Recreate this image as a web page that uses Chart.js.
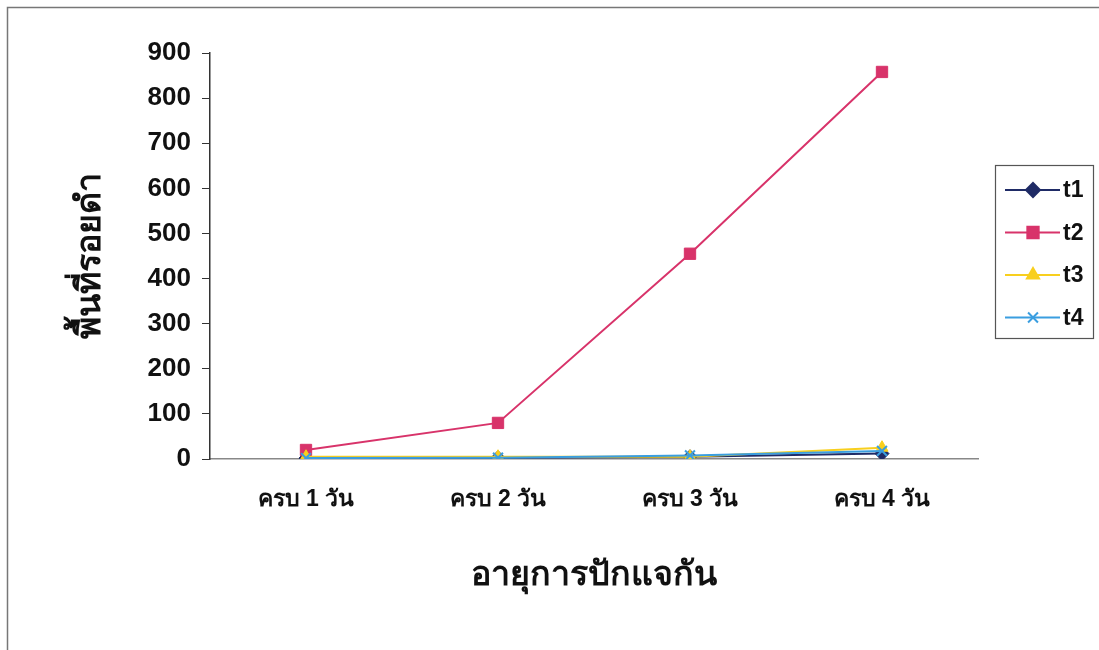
<!DOCTYPE html>
<html>
<head>
<meta charset="utf-8">
<script src="https://cdn.jsdelivr.net/npm/chart.js@4"></script>
<style>
  html, body { margin: 0; padding: 0; background: #fff; }
  #wrap { width: 1099px; height: 650px; position: relative; }
</style>
</head>
<body>
<div id="wrap"><canvas id="chart" width="1099" height="650"></canvas></div>
<script>
const categories = ['ครบ 1 วัน', 'ครบ 2 วัน', 'ครบ 3 วัน', 'ครบ 4 วัน'];
const t1 = [2, 3, 5, 12];
const t2 = [20, 80, 455, 858];
const t3 = [5, 5, 5, 25];
const t4 = [2, 3, 8, 18];
const yTicks = [0, 100, 200, 300, 400, 500, 600, 700, 800, 900];

const FONT = "'Liberation Sans', Arial, sans-serif";

const series = [
  { label: 't1', data: t1, color: '#1f2b66', point: 'rectRot', radius: 7 },
  { label: 't2', data: t2, color: '#d8336a', point: 'rect', radius: 8 },
  { label: 't3', data: t3, color: '#f8cf1e', point: 'triangle', radius: 7 },
  { label: 't4', data: t4, color: '#3a9ee0', point: 'crossRot', radius: 7 }
];

// legend box with line + marker samples, plus the outer frame
const framePlugin = {
  id: 'frame',
  afterDraw(chart) {
    const ctx = chart.ctx;
    ctx.save();
    ctx.strokeStyle = '#777';
    ctx.lineWidth = 1.5;
    ctx.strokeRect(7.5, 7.5, 1200, 800);

    const lx = 995, ly = 165, lw = 98, lh = 173;
    ctx.strokeStyle = '#555';
    ctx.lineWidth = 1.2;
    ctx.strokeRect(lx + 0.5, ly + 0.5, lw, lh);

    chart.data.datasets.forEach((ds, i) => {
      const y = ly + 25 + i * 42.5;
      ctx.strokeStyle = ds.borderColor;
      ctx.fillStyle = ds.borderColor;
      ctx.lineWidth = 2;
      ctx.beginPath();
      ctx.moveTo(lx + 10, y);
      ctx.lineTo(lx + 65, y);
      ctx.stroke();
      Chart.helpers.drawPoint(ctx, {
        pointStyle: ds.pointStyle,
        radius: ds.pointRadius,
        borderWidth: ds.pointBorderWidth
      }, lx + 38, y);
      ctx.fillStyle = '#111';
      ctx.font = 'bold 23px ' + FONT;
      ctx.textBaseline = 'middle';
      ctx.fillText(ds.label, lx + 68, y + 1);
    });
    ctx.restore();
  }
};

new Chart(document.getElementById('chart'), {
  type: 'line',
  data: {
    labels: categories,
    datasets: series.map((s, i) => ({
      label: s.label,
      data: s.data,
      // later series are painted over earlier ones
      order: series.length - i,
      borderColor: s.color,
      backgroundColor: s.color,
      pointBackgroundColor: s.color,
      pointBorderColor: s.color,
      pointStyle: s.point,
      pointRadius: s.radius,
      pointBorderWidth: s.point === 'crossRot' ? 2 : 1,
      borderWidth: 2,
      tension: 0
    }))
  },
  options: {
    responsive: false,
    animation: false,
    layout: { padding: { left: 70, right: 121, top: 53, bottom: 54 } },
    plugins: {
      legend: { display: false },
      tooltip: { enabled: false }
    },
    scales: {
      x: {
        offset: true,
        grid: { display: false },
        border: { display: true, color: '#888', width: 1.5 },
        ticks: { color: '#111', padding: 19, font: { family: FONT, size: 23, weight: 'bold' } },
        title: {
          display: true,
          text: 'อายุการปักแจกัน',
          color: '#111',
          padding: 0,
          font: { family: FONT, size: 34, weight: 'bold' }
        },
        afterFit(scale) { scale.height = 137; }
      },
      y: {
        min: 0,
        max: 900,
        afterBuildTicks(scale) { scale.ticks = yTicks.map(v => ({ value: v })); },
        grid: { display: true, drawOnChartArea: false, tickLength: 8, color: '#333' },
        border: { display: true, color: '#333', width: 1.5 },
        ticks: { color: '#111', padding: 11, font: { family: FONT, size: 26, weight: 'bold' } },
        title: {
          display: true,
          text: 'พื้นที่รอยดำ',
          color: '#111',
          padding: 0,
          font: { family: FONT, size: 34, weight: 'bold' }
        },
        afterFit(scale) { scale.width = 140; }
      }
    }
  },
  plugins: [framePlugin]
});
</script>
</body>
</html>
